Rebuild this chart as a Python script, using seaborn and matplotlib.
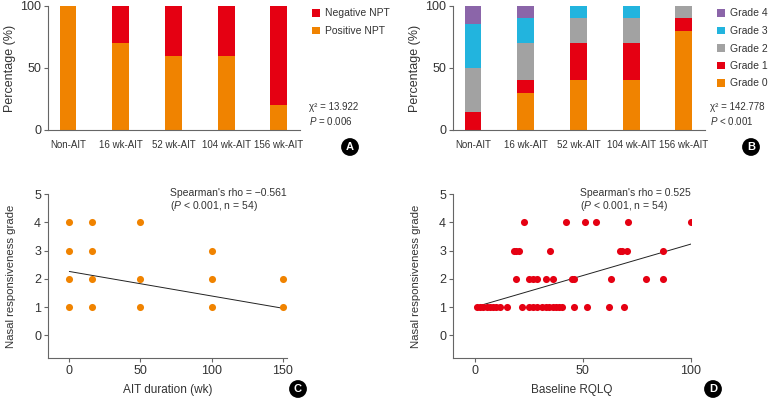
import numpy as np
import matplotlib
matplotlib.use("Agg")
import matplotlib.pyplot as plt
from matplotlib.patches import Patch
import seaborn as sns

# ---- data ----
categories = ['Non-AIT', '16 wk-AIT', '52 wk-AIT', '104 wk-AIT', '156 wk-AIT']

# panel A: NPT result (%)
positive_npt = [100, 70, 60, 60, 20]
negative_npt = [0, 30, 40, 40, 80]

# panel B: nasal responsiveness grade (%)
grade0 = [0, 30, 40, 40, 80]
grade1 = [14.3, 10, 30, 30, 10]
grade2 = [35.7, 30, 20, 20, 10]
grade3 = [35.7, 20, 10, 10, 0]
grade4 = [14.3, 10, 0, 0, 0]

# panel C: AIT duration vs grade
c_weeks = [0, 0, 0, 0, 16, 16, 16, 16, 50, 50, 50, 100, 100, 100, 150, 150]
c_grade = [1, 2, 3, 4, 1, 2, 3, 4, 1, 2, 4, 1, 2, 3, 1, 2]
c_fit_x = [0, 150]
c_fit_y = [2.26, 0.96]

# panel D: baseline RQLQ vs grade
d_rqlq = [23, 42, 51, 56, 71, 100,
          18, 19.2, 20.3, 35, 67, 68.3, 70.2, 87,
          19.2, 25, 27, 29, 33, 36, 45, 46, 63, 79, 87,
          1, 2.5, 4, 5.5, 7, 8.5, 10, 11.5, 15,
          22, 25, 27, 29, 31, 33, 34.6, 36, 37.7, 38.8, 40.3,
          46, 52, 62, 69]
d_grade = [4] * 6 + [3] * 8 + [2] * 11 + [1] * 24
d_fit_x = [0, 100]
d_fit_y = [1.0, 3.23]

# ---- style ----
ORANGE = '#f08300'
RED = '#e50012'
GRAY = '#a2a2a2'
CYAN = '#22b4de'
PURPLE = '#8b65a9'
TXT = '#333333'
SPINE = '#666666'

sns.set_style("white")
plt.rcParams['font.family'] = ['Liberation Sans', 'DejaVu Sans']
plt.rcParams['mathtext.fontset'] = 'custom'
plt.rcParams['mathtext.rm'] = 'Liberation Sans'
plt.rcParams['mathtext.it'] = 'Liberation Sans:italic'
plt.rcParams['text.color'] = TXT
plt.rcParams['axes.labelcolor'] = TXT
plt.rcParams['xtick.color'] = SPINE
plt.rcParams['ytick.color'] = SPINE
plt.rcParams['xtick.labelcolor'] = TXT
plt.rcParams['ytick.labelcolor'] = TXT

fig = plt.figure(figsize=(7.71, 4.0), dpi=100)
W, H = 771, 400


def box(l, t, r, b):
    return [l / W, 1 - b / H, (r - l) / W, (b - t) / H]


def fx(px):
    return px / W


def fy(py):
    return 1 - py / H


def style_axes(ax):
    for s in ['top', 'right']:
        ax.spines[s].set_visible(False)
    for s in ['left', 'bottom']:
        ax.spines[s].set_color(SPINE)
        ax.spines[s].set_linewidth(0.8)


def stacked(ax, layers, colors):
    # draw cumulative totals from the top down so each layer covers the one above
    cum = np.cumsum(np.array(layers), axis=0)
    for i in range(len(layers) - 1, -1, -1):
        sns.barplot(x=categories, y=cum[i], color=colors[i], width=0.32,
                    saturation=1, linewidth=0, ax=ax)
    ax.set_ylim(0, 100)
    ax.set_xlim(-0.38, 4.4)
    ax.set_yticks([0, 50, 100])
    ax.set_ylabel('Percentage (%)', fontsize=9, labelpad=3)
    ax.tick_params(axis='y', labelsize=9, length=3, width=0.8, pad=2, left=True)
    ax.tick_params(axis='x', labelsize=7, length=0, pad=7)
    style_axes(ax)


def legend(ax, labels, colors, x, y):
    handles = [Patch(facecolor=c, edgecolor='none', label=l) for l, c in zip(labels, colors)]
    ax.legend(handles=handles, loc='upper left', bbox_to_anchor=(fx(x), fy(y)),
              bbox_transform=fig.transFigure, frameon=False, fontsize=7.5,
              handlelength=0.75, handleheight=0.75, handletextpad=0.5,
              labelspacing=0.72, borderaxespad=0, borderpad=0)


def badge(x, y, letter):
    fig.text(fx(x), fy(y), letter, color='white', fontsize=8, fontweight='bold',
             ha='center', va='center',
             bbox=dict(boxstyle='circle,pad=0.35', fc='black', ec='none'))


# ---- panel A ----
axA = fig.add_axes(box(48, 6, 300, 130))
stacked(axA, [positive_npt, negative_npt], [ORANGE, RED])
legend(axA, ['Negative NPT', 'Positive NPT'], [RED, ORANGE], 312, 8.5)
fig.text(fx(309), fy(107), 'χ² = 13.922', fontsize=7, va='center')
fig.text(fx(309), fy(121), r'$\mathit{P}$ = 0.006', fontsize=7, va='center')
badge(350, 147, 'A')

# ---- panel B ----
axB = fig.add_axes(box(453, 6, 705, 130))
b_colors = [ORANGE, RED, GRAY, CYAN, PURPLE]
stacked(axB, [grade0, grade1, grade2, grade3, grade4], b_colors)
legend(axB, ['Grade 4', 'Grade 3', 'Grade 2', 'Grade 1', 'Grade 0'],
       b_colors[::-1], 717, 8.5)
fig.text(fx(710), fy(107), 'χ² = 142.778', fontsize=7, va='center')
fig.text(fx(710), fy(121), r'$\mathit{P}$ < 0.001', fontsize=7, va='center')
badge(751, 147, 'B')


# ---- scatter panels ----
def scatter_panel(ax, x, y, fit_x, fit_y, color, xlim, xticks, xlabel):
    sns.scatterplot(x=x, y=y, color=color, s=26, linewidth=0, ax=ax, zorder=3)
    sns.lineplot(x=fit_x, y=fit_y, color='#222222', linewidth=0.7, ax=ax, zorder=2)
    ax.set_xlim(*xlim)
    ax.set_ylim(-0.8, 5)
    ax.set_xticks(xticks)
    ax.set_yticks(range(6))
    ax.set_xlabel(xlabel, fontsize=8.5, labelpad=5)
    ax.set_ylabel('Nasal responsiveness grade', fontsize=8.2, labelpad=13)
    ax.tick_params(labelsize=9, length=3, width=0.8, pad=2, left=True, bottom=True)
    style_axes(ax)


axC = fig.add_axes(box(48, 194, 287, 358))
scatter_panel(axC, c_weeks, c_grade, c_fit_x, c_fit_y, ORANGE, (-15, 153),
              [0, 50, 100, 150], 'AIT duration (wk)')
fig.text(fx(170), fy(193), "Spearman's rho = \u22120.561", fontsize=7.5, va='center')
fig.text(fx(170), fy(206), r'($\mathit{P}$ < 0.001, n = 54)', fontsize=7.5, va='center')
badge(298, 389, 'C')

axD = fig.add_axes(box(453, 194, 691, 358))
scatter_panel(axD, d_rqlq, d_grade, d_fit_x, d_fit_y, RED, (-10, 100),
              [0, 50, 100], 'Baseline RQLQ')
fig.text(fx(580), fy(193), "Spearman's rho = 0.525", fontsize=7.5, va='center')
fig.text(fx(580), fy(206), r'($\mathit{P}$ < 0.001, n = 54)', fontsize=7.5, va='center')
badge(713, 389, 'D')

fig.savefig('out.png', dpi=100)
